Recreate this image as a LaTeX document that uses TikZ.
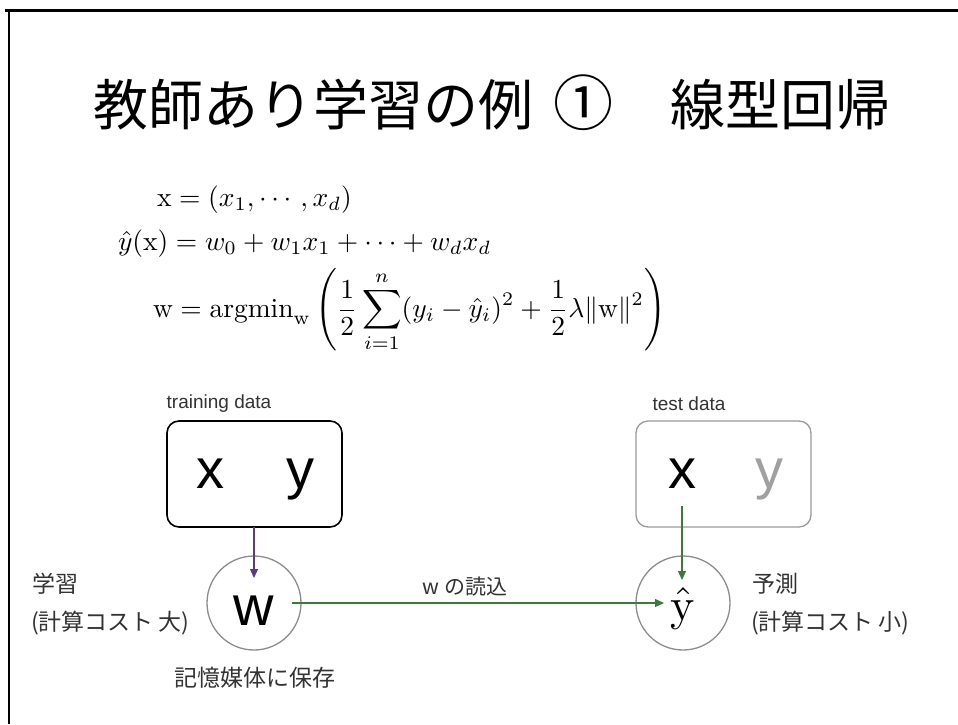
\documentclass[tikz,border=0pt]{standalone}
\usepackage{graphicx}
\usepackage{amsmath}
\usepackage{fontspec}
\newfontfamily\jp{Noto Sans CJK JP}
\newfontfamily\hv{Liberation Sans}
\usetikzlibrary{arrows.meta}
\definecolor{purp}{HTML}{5A3A8A}
\definecolor{grn}{HTML}{3B7A3B}
\definecolor{circgray}{HTML}{8C8C8C}
\definecolor{boxgray}{HTML}{9A9A9A}
\definecolor{lblgray}{HTML}{333333}
\definecolor{ygray}{HTML}{A0A0A0}
\newcommand{\eqscale}[1]{\scalebox{2.75}{#1}}
\begin{document}
\begin{tikzpicture}[x=1pt,y=-1pt,
  every node/.style={inner sep=0pt, outer sep=0pt},
  databox/.style={draw, rounded corners=12pt, line width=1.6pt, minimum width=175pt, minimum height=106pt},
  valcircle/.style={draw=circgray, circle, line width=1.3pt, minimum size=94pt},
  lbl/.style={font=\jp\fontsize{23}{26}\selectfont, text=lblgray},
  small/.style={font=\hv\fontsize{19}{22}\selectfont, text=lblgray},
  big/.style={font=\hv\fontsize{56}{60}\selectfont},
  ttl/.style={font=\jp\fontsize{55}{60}\selectfont},
  eq/.style={anchor=base west},
  conn/.style={line width=1.3pt, -{Triangle[length=9pt,width=8pt]}}
]
\useasboundingbox (0,0) rectangle (958,724);
\fill[white] (0,0) rectangle (958,724);
\draw[line width=2.5pt] (5,10.5) -- (958,10.5);
\draw[line width=2.5pt] (9,10.5) -- (9,724);

% title
\node[ttl, anchor=west] (t1) at (93,105) {教師あり学習の例};
\node[ttl, font=\jp\fontsize{60}{64}\selectfont] (t2) at (583,103) {①};
\node[ttl, anchor=west] (t3) at (670,105) {線型回帰};

% equations
\node[eq] (e1) at (157,206) {\eqscale{$\mathrm{x} = (x_1, \cdots, x_d)$}};
\node[eq] (e2) at (118,250) {\eqscale{$\hat{y}(\mathrm{x}) = w_0 + w_1 x_1 + \cdots + w_d x_d$}};
\node[eq] (e3) at (153,317) {\eqscale{$\displaystyle \mathrm{w} = \mathrm{argmin}_{\mathrm{w}} \left( \frac{1}{2}\sum_{i=1}^{n}(y_i-\hat{y}_i)^2 + \frac{1}{2}\lambda\|\mathrm{w}\|^2 \right)$}};

% training side
\node[small] (trl) at (219,404) {training data};
\node[databox] (train) at (254.5,474) {};
\node[big, anchor=base] (tx) at (210,488) {x};
\node[big, anchor=base] (ty) at (300,488) {y};
\node[valcircle] (wc) at (254,603) {};
\node[big, anchor=base] (wt) at (254,625) {w};

% test side
\node[small] (tel) at (689,404) {test data};
\node[databox, draw=boxgray, line width=1.3pt] (test) at (723.5,474) {};
\node[big, anchor=base] (sx) at (682,488) {x};
\node[big, anchor=base, text=ygray] (sy) at (769,488) {y};
\node[valcircle] (yc) at (683,603) {};
\node[anchor=base] (yh) at (683,620) {\scalebox{4.6}{$\hat{\mathrm{y}}$}};

% labels
\node[lbl, anchor=west] (l1) at (32,584) {学習};
\node[lbl, anchor=west] (l2) at (31,623) {(計算コスト 大)};
\node[lbl] (l3) at (255,678) {記憶媒体に保存};
\node[lbl, anchor=west] (r1) at (752,584) {予測};
\node[lbl, anchor=west] (r2) at (751,623) {(計算コスト 小)};
\node[font=\jp\fontsize{21}{24}\selectfont, text=lblgray] (rd) at (465,587) {w の読込};

% connectors
\coordinate (trout) at (254,527);
\coordinate (wtip) at (254,578);
\coordinate (wout) at (292,603);
\coordinate (ytip) at (664,603);
\coordinate (xout) at (682,506);
\coordinate (ytop) at (682,580);
\draw[conn, draw=purp, fill=purp] (trout) -- (wtip);
\draw[conn, draw=grn, fill=grn] (wout) -- (ytip);
\draw[conn, draw=grn, fill=grn] (xout) -- (ytop);
\end{tikzpicture}
\end{document}
